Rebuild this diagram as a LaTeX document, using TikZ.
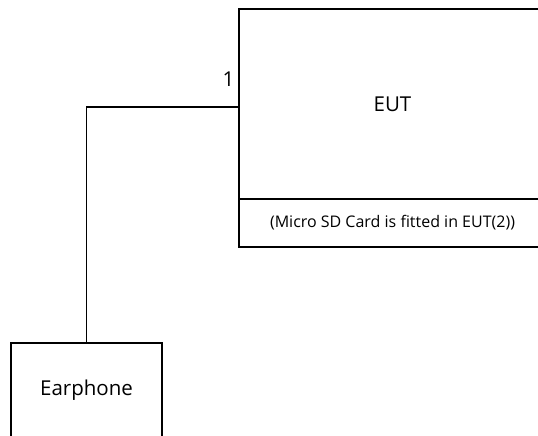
\documentclass[tikz,border=0pt]{standalone}
\usepackage{fontspec}
\setmainfont{Open Sans}
\usetikzlibrary{positioning}

\begin{document}
\begin{tikzpicture}[x=1pt,y=-1pt]
      \tikzstyle{rectblock}=[rectangle, draw, line width=2.5pt, inner sep=0pt, outer sep=0pt, anchor=north west]
      \tikzstyle{bigtext}=[font=\fontsize{20.5}{24}\selectfont]
      \tikzstyle{smalltext}=[font=\fontsize{16}{19}\selectfont]
      \useasboundingbox (0,0) rectangle (538,436);
      \clip (0,0) rectangle (538,436);
      \node[rectblock, bigtext, minimum width=307pt, minimum height=190pt] (EUT) at (239,9) {EUT};
      \node[rectblock, smalltext, minimum width=307pt, minimum height=48pt] (SD) at (EUT.south west) {(Micro SD Card is fitted in EUT(2))};
      \node[rectblock, minimum width=151pt, minimum height=100pt] (Earphone) at (11,343) {};
      \node[bigtext] (EarphoneText) at (86.5,390) {Earphone};
      \node[bigtext, above left = 14pt and 1pt of EUT.west] (port1) {1};
      \draw [line width=1.5pt] ([yshift=-3pt]EUT.west) -| (Earphone.north);
    \end{tikzpicture}
\end{document}
